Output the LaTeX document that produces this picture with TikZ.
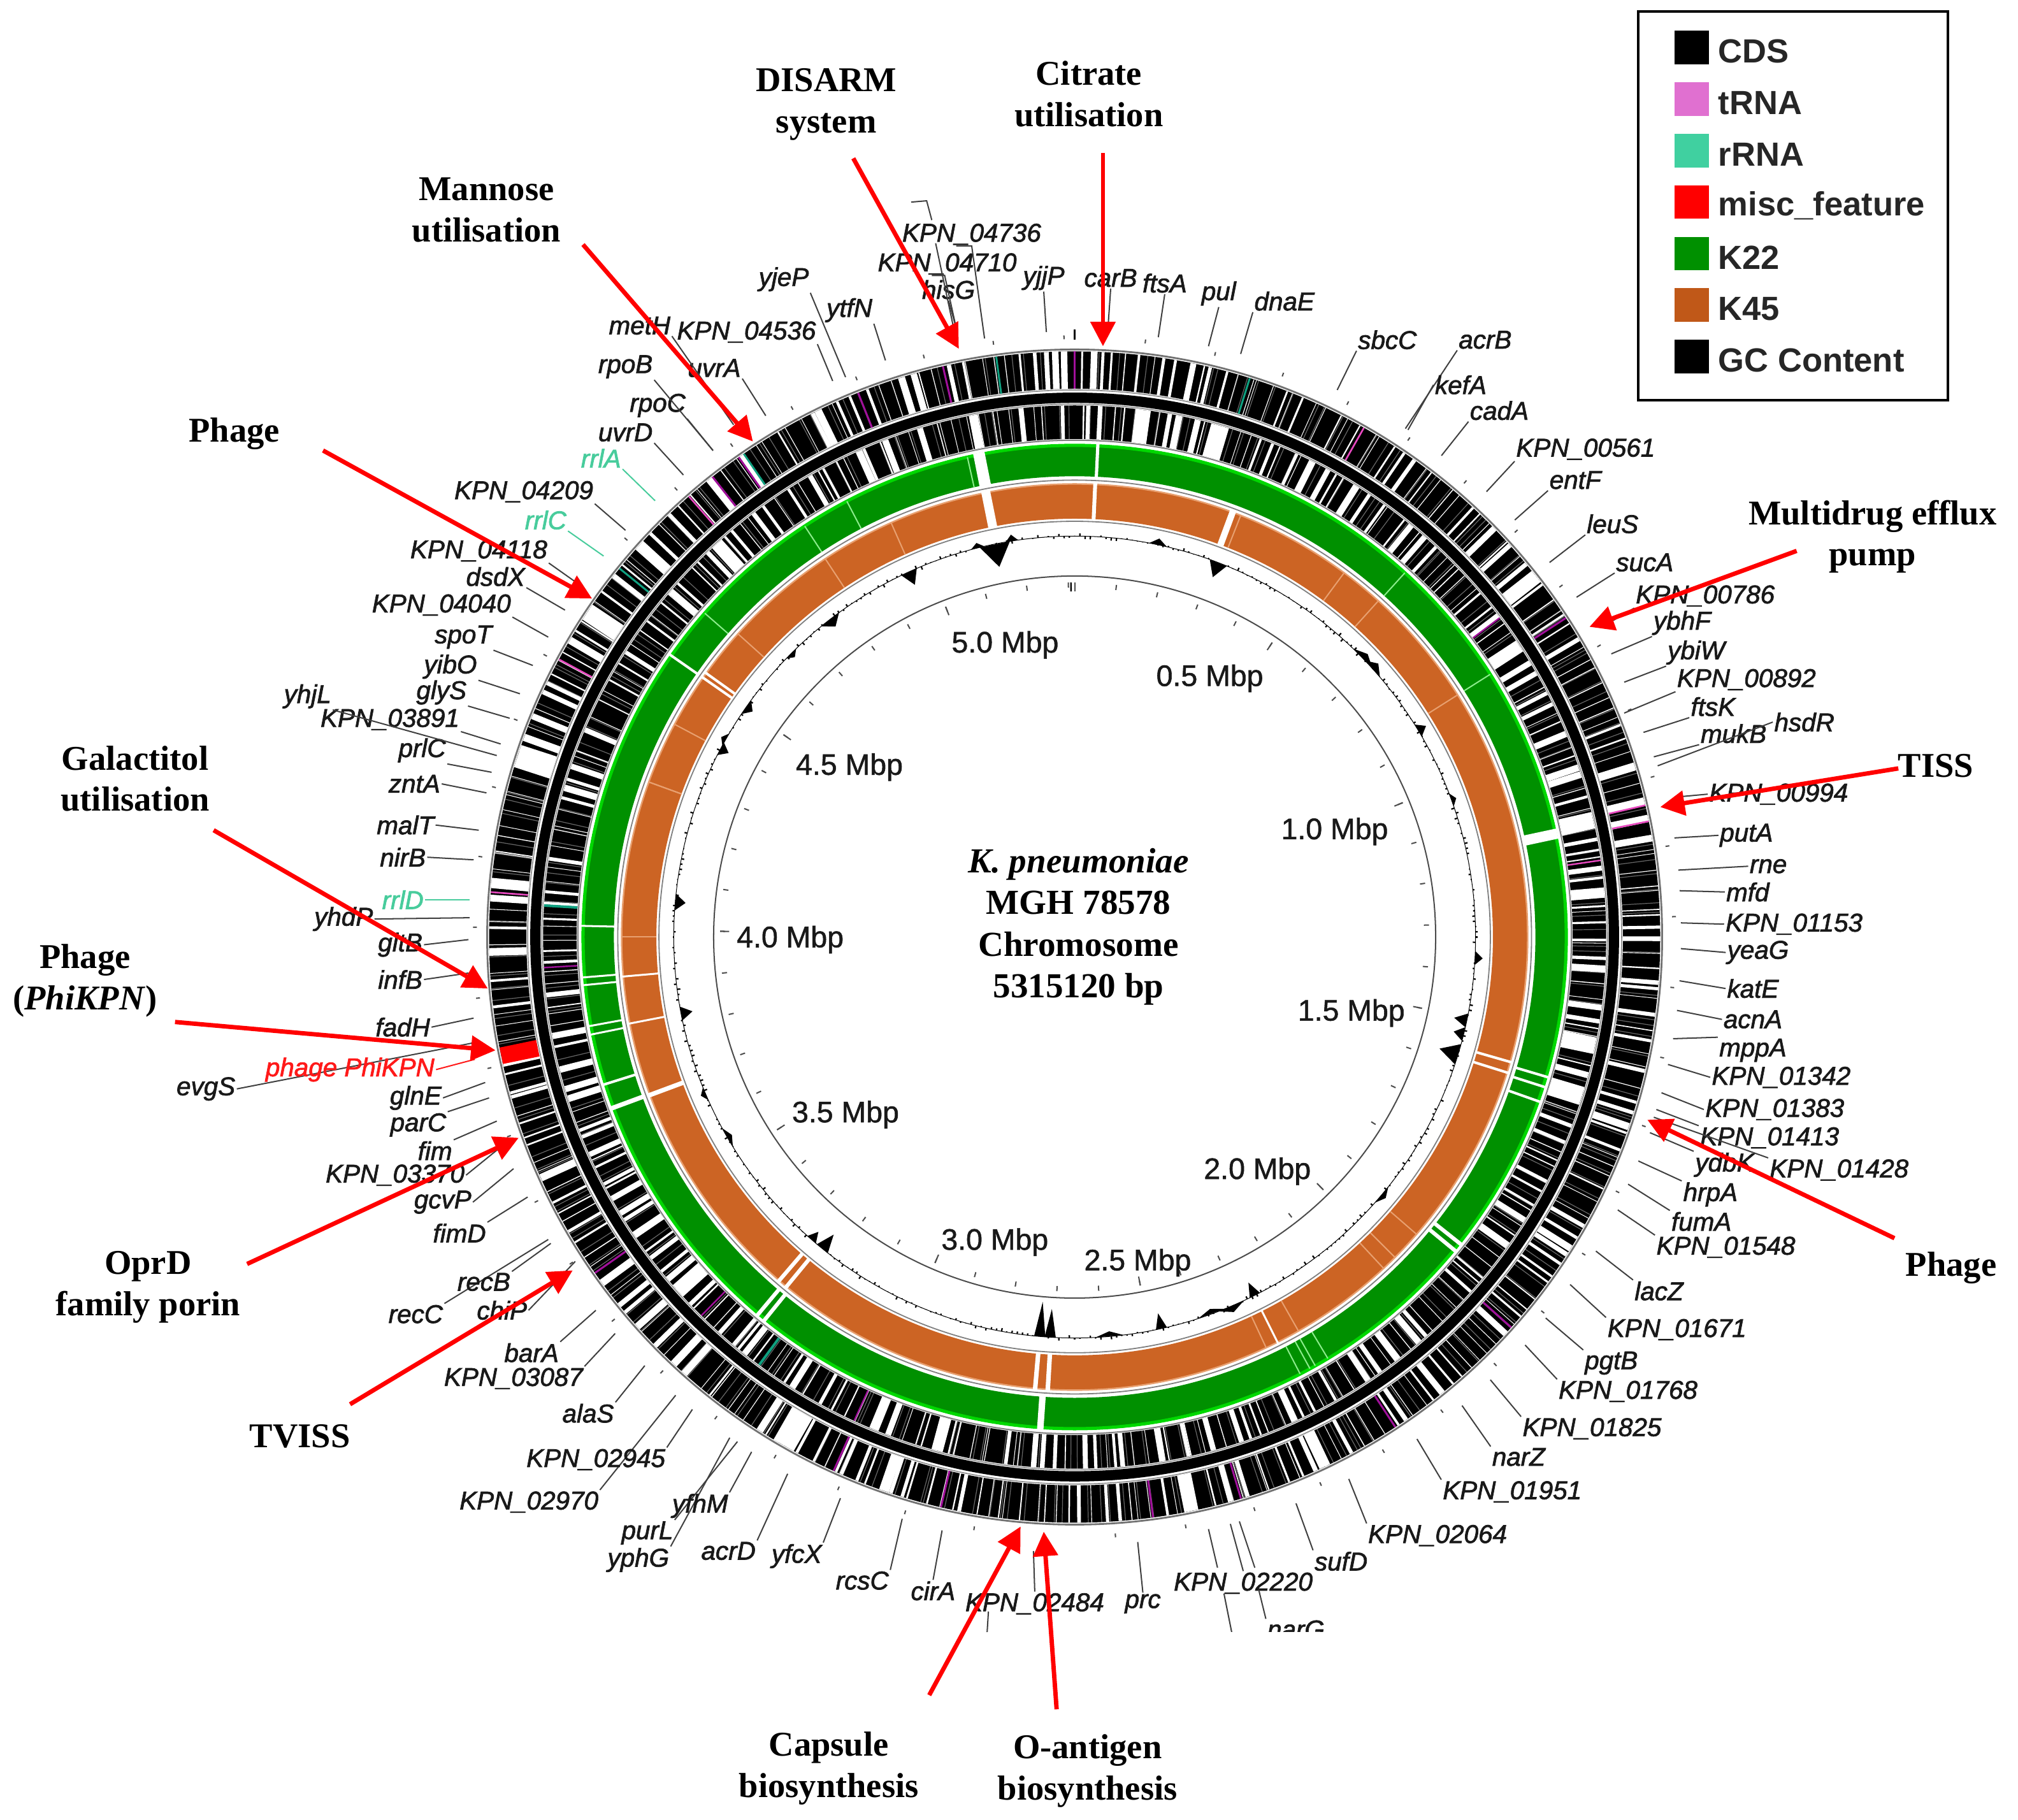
\documentclass[tikz,border=0pt]{standalone}
\usepackage{fontspec}
\setmainfont{Liberation Serif}
\setsansfont{Liberation Sans}[UprightFeatures={FakeBold=1.2},ItalicFeatures={FakeBold=1.8}]
\usetikzlibrary{arrows.meta}
\definecolor{kgreen}{HTML}{009000}
\definecolor{kbright}{HTML}{00D800}
\definecolor{korange}{HTML}{CC6424}
\definecolor{lorange}{HTML}{E8A070}
\definecolor{trna}{HTML}{A0109A}
\definecolor{tpink}{HTML}{E848C0}
\definecolor{rrna}{HTML}{10A080}
\definecolor{rlabel}{HTML}{48CC9C}
\tikzset{
  gene/.style={font=\sffamily\itshape\fontsize{20}{22}\selectfont,inner sep=1pt,text=black!90,yshift=-1pt},
  lead/.style={line width=1pt,draw=black!75},
  capt/.style={font=\rmfamily\bfseries\fontsize{27}{32}\selectfont,align=center,inner sep=0pt},
  hit/.style={draw=red,line width=3.4pt,-{Triangle[length=19pt,width=19pt]}},
  mbp/.style={font=\sffamily\fontsize{23}{25}\selectfont,inner sep=0pt,text=black!90,yshift=-2pt},
  ringline/.style={draw=black!50,line width=0.9pt},
  keytext/.style={font=\sffamily\bfseries\fontsize{26}{28}\selectfont,anchor=west,inner sep=0pt,text=black!85}
}
\begin{document}
\begin{tikzpicture}[x=1pt,y=-1pt]
  \useasboundingbox (0,0) rectangle (1568,1414);

  \begin{scope}[shift={(835,728)}]
    % ring bodies
    \draw[black,line width=29pt] (0,0) circle (440.5);
    \draw[black,line width=8pt] (0,0) circle (419);
    \draw[black,line width=26pt] (0,0) circle (400);
    \draw[kgreen,line width=24pt] (0,0) circle (370);
    \draw[kbright,line width=2.5pt] (0,0) circle (382);
    \draw[korange,line width=27pt] (0,0) circle (338.5);
    \draw[lorange,line width=1.2pt] (0,0) circle (352);

    % coding regions, outer ring
    \pgfmathsetseed{11}
    \foreach \i in {1,...,300}{
      \pgfmathsetmacro{\a}{\i*1.2+rnd*1.1}
      \pgfmathsetmacro{\u}{rnd}
      \pgfmathsetmacro{\w}{0.5+5.5*\u*\u*\u}
      \draw[white,line width=\w pt] ({\a-90}:426) -- ({\a-90}:455);
    }
    \foreach \i in {1,...,260}{
      \pgfmathsetmacro{\a}{\i*1.3846+rnd*1.3}
      \draw[white,opacity=0.4,line width=0.6pt] ({\a-90}:426) -- ({\a-90}:455);
    }
    \foreach \a/\w in {275.3/8,288/18,303.7/14,168.5/11,154.7/9,209.8/18,199/8,52/11,312/7,258/5}
      \draw[white,line width=\w pt] ({\a-90}:426) -- ({\a-90}:455);

    % coding regions, inner ring
    \pgfmathsetseed{29}
    \foreach \i in {1,...,290}{
      \pgfmathsetmacro{\a}{\i*1.2414+rnd*1.2}
      \pgfmathsetmacro{\u}{rnd}
      \pgfmathsetmacro{\w}{0.5+5*\u*\u*\u}
      \draw[white,line width=\w pt] ({\a-90}:387) -- ({\a-90}:413);
    }
    \foreach \i in {1,...,240}{
      \pgfmathsetmacro{\a}{\i*1.5+rnd*1.4}
      \draw[white,opacity=0.4,line width=0.6pt] ({\a-90}:387) -- ({\a-90}:413);
    }
    \foreach \a/\w in {77.3/13,85.2/8,101.8/13,107.5/13,7.5/10,15.6/10,-11/7,-42.3/10,56.8/10,195/9,228/8}
      \draw[white,line width=\w pt] ({\a-90}:387) -- ({\a-90}:413);

    % tRNA, rRNA and misc features
    \foreach \a in {-38.2,-35,0,-13,-21.7,131.8,146.8,163.5,172.3,204.3,193.2,235,57}
      \draw[trna,line width=1.5pt] ({\a-90}:426) -- ({\a-90}:455);
    \foreach \a in {-41.2,29.6,77,78.6,274.4,298.3}
      \draw[tpink,line width=1.3pt] ({\a-90}:426) -- ({\a-90}:455);
    \foreach \a in {-34.4,-7.7,17.4,-51}
      \draw[rrna,line width=1.5pt] ({\a-90}:426) -- ({\a-90}:455);
    \foreach \a in {204.5,224.6,53.1,266.7}
      \draw[trna,line width=1.2pt] ({\a-90}:387) -- ({\a-90}:413);
    \draw[tpink,line width=1.2pt] (81.7-90:387) -- (81.7-90:413);
    \foreach \a in {273.4,216.4}
      \draw[rrna,line width=2pt] ({\a-90}:387) -- ({\a-90}:413);
    \draw[red,line width=13pt] (258.3-90:426) -- (258.3-90:455);

    % edges of the rings
    \draw[black!55,line width=1.4pt] (0,0) circle (456.5);
    \draw[black!45,line width=0.8pt] (0,0) circle (425);
    \draw[black!45,line width=0.8pt] (0,0) circle (414);
    \draw[black!50,line width=1pt] (0,0) circle (386);
    \draw[ringline] (0,0) circle (355);
    \draw[ringline] (0,0) circle (323);
    \draw[white,line width=1pt] (0,0) circle (384);
    \draw[white,line width=1pt] (0,0) circle (353.5);

    % gaps in K22
    \foreach \a/\w in {-11.2/9,2.7/2.5,77.9/8,106.5/2,107.7/2,109.5/2,128.5/3,129.5/3,184/5,219/3,220/3,249.7/3.5,252.6/2,258.6/1.5,259.6/1.5,264.4/1.5,265.3/1.5,271.3/1.5,-55.1/2}
      \draw[white,line width=\w pt] ({\a-90}:357) -- ({\a-90}:383.5);
    \foreach \a in {42.2,57.7,-27.6,-33.3,-48.8,149,150.7,151.4,152.7,-12.6}
      \draw[white!55!kbright,line width=1pt] ({\a-90}:358) -- ({\a-90}:382);

    % gaps in K45
    \foreach \a/\w in {-11.3/7,2.6/3,20.4/5,106/2,107.4/2,183.4/3.5,185/3.5,219.5/3,220.7/3,249.6/3.5,-55.1/2,-54.4/2,259/1.5,265/1.5,153.4/1.5}
      \draw[white,line width=\w pt] ({\a-90}:324) -- ({\a-90}:353);
    \foreach \a in {21.5,36.5,42.1,57.7,-23.9,-33.4,-48,150.4,155,131,135,137,-62,-70,290,270}
      \draw[lorange,line width=1pt] ({\a-90}:325) -- ({\a-90}:352);

    % GC content
    \draw[black,line width=0.5pt] (0,0) circle (311.5);
    \pgfmathsetseed{5}
    \foreach \i in {0,...,479}{
      \pgfmathsetmacro{\a}{\i*0.75}
      \pgfmathsetmacro{\h}{(rnd-0.5)*5}
      \draw[black,line width=1.1pt] ({\a-90}:311.5) -- ({\a-90}:{311.5+\h});
    }
    \foreach \a/\h/\w in {-11.5/-18/2.2,-9/5/0.9,-14/4/1,-24.4/-11/1.2,21/-12/1.3,12/5/1.3,-37.6/-7/1.6,-45/-4/1,-55/-6/1.2,-60.5/4/1,-62/-7/1,-85/-8/1.2,-101/-9/1,46/5/2,48/6/1.6,59/7/1,93/6/1,102/-10/1,104/-8/1,107/-15/1.5,153.3/-11/0.8,157/5/2,160/-4/2,167.5/-12/0.8,175/-4/2,183.5/-22/0.8,185/-27/0.8,219/-14/1,221/-8/0.8,240/-4/1.5,247/4/1,130/4/1.5,70/4/1}
      \fill[black] ({\a-\w-90}:311.5) -- ({\a-90}:{311.5+\h}) -- ({\a+\w-90}:311.5) -- cycle;

    % scale circle and its ticks
    \draw[black!70,line width=1pt] (0,0) circle (280.5);
    \foreach \m in {0,...,53}{
      \pgfmathsetmacro{\a}{\m*6.7732}
      \draw[black!70,line width=1pt] ({\a-90}:271.5) -- ({\a-90}:275.5);
      \draw[black!70,line width=1pt] ({\a-90}:464.5) -- ({\a-90}:467.5);
    }
    \foreach \m in {0,5,...,50}{
      \pgfmathsetmacro{\a}{\m*6.7732}
      \draw[black!70,line width=1pt] ({\a-90}:268.5) -- ({\a-90}:275.5);
    }
    \draw[black,line width=1.4pt] (-90:464) -- (-90:472);
    \draw[black,line width=1.2pt] (-90.6:268.5) -- (-90.6:275.5);
  \end{scope}

  % gene labels
  \foreach \nm/\lx/\ly/\anc/\ex/\ey [count=\i] in {
    yjjP/811/215/south/813/258, carB/863/215/south/861/253, ftsA/905/219/south/900/262,
    pul/947/227/south/939/269, dnaE/998/233/south west/964/275, sbcC/1078/263/south west/1039/303,
    acrB/1154/263/south west/1092/333, kefA/1135/298/west/1094/334, cadA/1165/318/south west/1120/354,
    KPN\_00561/1232/348/south west/1155/382, entF/1224/372/south west/1177/404,
    leuS/1253/406/south west/1204/437, sucA/1278/436/south west/1225/464,
    KPN\_00786/1325/462/south west/1245/487, ybhF/1307/483/south west/1252/508,
    ybiW/1318/506/south west/1262/530, KPN\_00892/1357/527/south west/1262/554,
    ftsK/1331/548/south west/1277/569, mukB/1347/569/south west/1285/588, hsdR/1402/560/west/1288/595,
    KPN\_00994/1382/616/west/1305/619, putA/1357/648/west/1301/651, rne/1374/672/west/1304/676,
    mfd/1358/692/west/1305/692, KPN\_01153/1394/717/west/1306/717, yeaG/1366/739/west/1306/737,
    katE/1362/767/west/1305/762, acnA/1362/791/west/1303/785, mppA/1362/815/north west/1300/807,
    KPN\_01342/1384/836/west/1296/827, KPN\_01383/1379/861/west/1291/849,
    KPN\_01413/1375/883/north west/1287/862, ydbK/1340/904/north west/1282/880,
    KPN\_01428/1429/908/north west/1285/868, hrpA/1329/927/north west/1273/902,
    fumA/1322/948/north west/1265/920, KPN\_01548/1341/968/north west/1257/940,
    lacZ/1289/1002/north west/1240/972, KPN\_01671/1303/1032/north west/1220/998,
    pgtB/1252/1058/north west/1201/1024, KPN\_01768/1265/1080/north west/1185/1045,
    KPN\_01825/1237/1109/north west/1158/1072, narZ/1180/1131/north west/1136/1092,
    KPN\_01951/1175/1158/north west/1101/1118, KPN\_02064/1117/1192/north west/1048/1149,
    sufD/1042/1212/north west/1007/1168, KPN\_02220/966/1229/north/956/1184,
    narG/1007/1265/north west/978/1235, prc/888/1245/north/884/1198,
    KPN\_02484/804/1245/north/803/1205, cirA/725/1235/north/732/1189,
    rcsC/670/1227/north east/701/1180, yfcX/619/1208/north east/653/1164,
    acrD/566/1204/north east/612/1145, yphG/496/1211/north east/567/1117,
    purL/503/1190/north east/573/1120, yfhM/544/1169/north east/584/1128,
    KPN\_02970/411/1166/north east/525/1084, KPN\_02945/463/1133/north east/538/1095,
    alaS/457/1097/north east/501/1061, KPN\_03087/399/1070/north east/478/1036,
    barA/413/1050/north east/463/1018, chiP/390/1017/east/447/980, recC/323/1020/north east/426/963,
    recB/376/995/north east/428/966, fimD/357/957/north east/410/930, gcvP/344/933/east/399/908,
    KPN\_03370/307/912/east/388/892, fim/338/893/north east/386/871, parC/325/873/north east/380/853,
    glnE/323/852/east/377/841, evgS/160/845/east/369/810, fadH/313/797/east/368/791,
    infB/311/760/east/364/756, gltB/311/733/east/364/730, yhdP/267/713/east/365/713,
    nirB/313/665/east/368/668, malT/315/640/east/372/645, zntA/322/608/east/378/616,
    prlC/328/582/south east/382/600, KPN\_03891/303/558/south east/389/578,
    yhjL/239/540/south east/386/587, glyS/343/537/south east/396/558, yibO/350/517/south east/404/539,
    spoT/360/494/south east/414/517, KPN\_04040/343/469/south east/426/495,
    dsdX/385/447/south east/439/474, KPN\_04118/372/427/south east/447/452,
    KPN\_04209/407/381/south east/486/412, uvrD/486/335/south east/531/369,
    rpoC/511/314/south east/554/350, rpoB/486/284/south east/554/350, uvrA/555/285/south east/595/323,
    metH/497/252/south east/570/330, KPN\_04536/580/257/south east/647/296,
    yjeP/609/216/south east/657/293, ytfN/660/240/south east/688/280, hisG/737/224/south/743/255}{
    \node[gene] (gene\i) at (\lx,\ly) {\nm};
    \coordinate (end\i) at (\ex,\ey);
    \draw[lead] (gene\i.\anc) -- (end\i);
  }
  \node[gene] (g4710) at (736,204) {KPN\_04710};
  \node[gene] (g4736) at (755,181) {KPN\_04736};

  % rRNA labels and the phage label
  \foreach \nm/\lx/\ly/\anc/\ex/\ey [count=\i] in {
    rrlA/467/355/south east/509/389, rrlC/424/403/south east/469/432, rrlD/313/698/east/365/699}{
    \node[gene,text=rlabel] (rrl\i) at (\lx,\ly) {\nm};
    \coordinate (rrlend\i) at (\ex,\ey);
    \draw[lead,draw=rlabel] (rrl\i.\anc) -- (rrlend\i);
  }
  \node[gene,text=red!90] (phi) at (272,830) {phage PhiKPN};
  \coordinate (phiend) at (369,823);
  \draw[lead,draw=red!90] (phi.east) -- (phiend);

  % bent leaders at the top and the split ones at the bottom
  \coordinate (ka) at (708,157);
  \coordinate (kb) at (720,156);
  \coordinate (kc) at (724,171);
  \coordinate (kd) at (727,189);
  \coordinate (ke) at (741,255);
  \coordinate (kf) at (743,191);
  \coordinate (kg) at (755,191);
  \coordinate (kh) at (765,263);
  \coordinate (ki) at (724,214);
  \coordinate (kj) at (734,214);
  \coordinate (kk) at (743,255);
  \draw[lead] (ka) -- (kb) -- (kc);
  \draw[lead] (kd) -- (ke);
  \draw[lead] (kf) -- (kg) -- (kh);
  \draw[lead] (ki) -- (kj) -- (kk);
  \coordinate (na) at (975,1218);
  \coordinate (nb) at (963,1182);
  \coordinate (nc) at (946,1218);
  \coordinate (nd) at (939,1188);
  \coordinate (ne) at (951,1238);
  \coordinate (nf) at (957,1268);
  \coordinate (ng) at (768,1252);
  \coordinate (nh) at (767,1268);
  \draw[lead] (na) -- (nb);
  \draw[lead] (nc) -- (nd);
  \draw[lead] (ne) -- (nf);
  \draw[lead] (ng) -- (nh);
  \fill[white] (940,1268) rectangle (1060,1295);

  % map scale
  \foreach \txt/\x/\y [count=\i] in {5.0/781/499,0.5/940/525,1.0/1037/644,1.5/1050/785,2.0/977/908,
    2.5/884/979,3.0/773/963,3.5/657/864,4.0/614/728,4.5/660/594}
    \node[mbp] (mbp\i) at (\x,\y) {\txt\ Mbp};

  % title in the middle
  \node[font=\rmfamily\bfseries\fontsize{27.3}{32.4}\selectfont,align=center,inner sep=0pt] (title) at (838,720)
    {\textit{K. pneumoniae}\\MGH 78578\\Chromosome\\5315120 bp};

  % captions
  \node[capt] (cDisarm) at (642,81) {DISARM\\system};
  \node[capt] (cCitrate) at (846,73) {Citrate\\utilisation};
  \node[capt] (cMannose) at (378,163) {Mannose\\utilisation};
  \node[capt] (cPhageA) at (182,337) {Phage};
  \node[capt] (cEfflux) at (1455,417) {Multidrug efflux\\pump};
  \node[capt] (cTiss) at (1504,595) {TISS};
  \node[capt] (cGalact) at (105,605) {Galactitol\\utilisation};
  \node[capt] (cPhi) at (66,762) {Phage\\(\textit{PhiKPN})};
  \node[capt] (cPhageB) at (1516,985) {Phage};
  \node[capt] (cOprd) at (115,1000) {OprD\\family porin};
  \node[capt] (cTviss) at (233,1116) {TVISS};
  \node[capt] (cCapsule) at (644,1374) {Capsule\\biosynthesis};
  \node[capt] (cOant) at (845,1376) {O-antigen\\biosynthesis};

  % red arrows
  \foreach \nm/\tx/\ty/\hx/\hy in {Disarm/663/123/745/271,Citrate/857/119/857/269,Mannose/453/190/585/343,
    PhageA/251/350/460/465,Efflux/1396/428/1235/487,Tiss/1475/597/1290/627,Galact/166/645/379/768,
    Phi/136/794/385/816,PhageB/1472/962/1280/870,Oprd/192/982/403/884,Tviss/272/1091/445/987,
    Capsule/722/1317/793/1186,Oant/821/1328/811/1190}{
    \coordinate (t\nm) at (\tx,\ty);
    \coordinate (h\nm) at (\hx,\hy);
    \draw[hit] (t\nm) -- (h\nm);
  }

  % legend
  \draw[black,line width=2.2pt] (1273,9) rectangle (1513.5,311);
  \definecolor{ktrna}{RGB}{224,112,208}
  \definecolor{krrna}{RGB}{64,208,160}
  \definecolor{kfourfive}{RGB}{192,88,24}
  \foreach \lab/\col [count=\i from 0] in {CDS/black,tRNA/ktrna,rRNA/krrna,misc\_feature/red,K22/kgreen,K45/kfourfive,GC Content/black}{
    \pgfmathsetmacro{\ya}{24+40*\i}
    \pgfmathsetmacro{\yb}{50+40*\i}
    \pgfmathsetmacro{\yc}{40+40*\i}
    \fill[color=\col] (1301,\ya) rectangle (1328,\yb);
    \node[keytext] (key\i) at (1335,\yc) {\lab};
  }
\end{tikzpicture}
\end{document}
